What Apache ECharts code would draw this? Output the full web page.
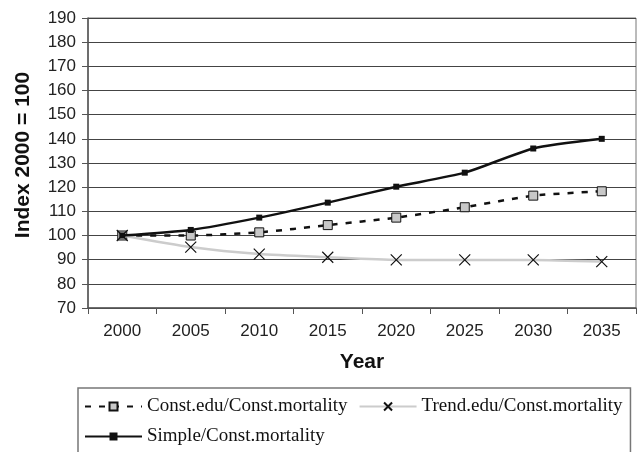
<!DOCTYPE html>
<html>
<head>
<meta charset="utf-8">
<script src="https://cdn.jsdelivr.net/npm/echarts@6/dist/echarts.min.js"></script>
<style>
  html, body { margin: 0; padding: 0; background: #fff; }
  #chart { width: 640px; height: 452px; }
</style>
</head>
<body>
<div id="chart"></div>
<script>
// 数据
var years = ['2000', '2005', '2010', '2015', '2020', '2025', '2030', '2035'];
var constEdu = [100, 100, 101.3, 104.3, 107.4, 111.7, 116.5, 118.3];
var trendEdu = [100, 95.2, 92.3, 91, 89.9, 89.9, 89.9, 89.2];
var simple = [100, 102.3, 107.4, 113.6, 120.2, 126, 136, 140];
var yMin = 70, yMax = 190, yStep = 10;

var sans = '"Liberation Sans", Arial, sans-serif';
var serif = '"Liberation Serif", "Times New Roman", serif';
var crossPath = 'path://M0,0L10,10M10,0L0,10';

var chart = echarts.init(document.getElementById('chart'));
chart.setOption({
    animation: false,
    grid: {
        left: 88,
        right: 4,
        top: 18,
        bottom: 144,
        show: true,
        borderColor: '#777',
        borderWidth: 1
    },
    legend: {
        left: 78,
        top: 388,
        width: 548,
        orient: 'horizontal',
        padding: [9, 8, 40, 6],
        itemGap: 11,
        itemWidth: 57,
        itemHeight: 10,
        borderColor: '#777',
        borderWidth: 1.5,
        textStyle: { fontFamily: serif, fontSize: 19, color: '#111', padding: [0, 3, 0, 0] },
        data: ['Const.edu/Const.mortality', 'Trend.edu/Const.mortality', 'Simple/Const.mortality']
    },
    xAxis: {
        type: 'category',
        data: years,
        boundaryGap: true,
        name: 'Year',
        nameLocation: 'middle',
        nameGap: 44,
        nameTextStyle: { fontFamily: sans, fontSize: 21, fontWeight: 'bold', color: '#111' },
        axisLine: { lineStyle: { color: '#555', width: 1.5 } },
        axisTick: { show: true, length: 6, alignWithLabel: false, lineStyle: { color: '#555' } },
        axisLabel: { fontFamily: sans, fontSize: 17, color: '#222', margin: 15 },
        splitLine: { show: false }
    },
    yAxis: {
        type: 'value',
        min: yMin,
        max: yMax,
        interval: yStep,
        name: 'Index 2000 = 100',
        nameLocation: 'middle',
        nameGap: 54,
        nameTextStyle: { fontFamily: sans, fontSize: 21, fontWeight: 'bold', color: '#111', padding: [0, 0, 0, 16] },
        axisLine: { show: true, lineStyle: { color: '#555', width: 1.5 } },
        axisTick: { show: true, length: 6, lineStyle: { color: '#555' } },
        axisLabel: { fontFamily: sans, fontSize: 17, color: '#222', margin: 12 },
        splitLine: { show: true, lineStyle: { color: '#444', width: 1 } }
    },
    series: [
        {
            name: 'Const.edu/Const.mortality',
            type: 'line',
            data: constEdu,
            smooth: 0.2,
            symbol: 'rect',
            symbolSize: 9,
            lineStyle: { color: '#111', width: 2.5, type: [6, 8] },
            itemStyle: { color: '#c8c8c8', borderColor: '#111', borderWidth: 1 },
            z: 2
        },
        {
            name: 'Trend.edu/Const.mortality',
            type: 'line',
            data: trendEdu,
            smooth: 0.2,
            symbol: crossPath,
            symbolSize: 11,
            lineStyle: { color: '#cccccc', width: 2.5 },
            itemStyle: { color: 'transparent', borderColor: '#111', borderWidth: 1.2 },
            z: 3
        },
        {
            name: 'Simple/Const.mortality',
            type: 'line',
            data: simple,
            smooth: 0.2,
            symbol: 'rect',
            symbolSize: 6,
            lineStyle: { color: '#111', width: 2.5 },
            itemStyle: { color: '#111' },
            z: 4
        }
    ]
});
</script>
</body>
</html>
